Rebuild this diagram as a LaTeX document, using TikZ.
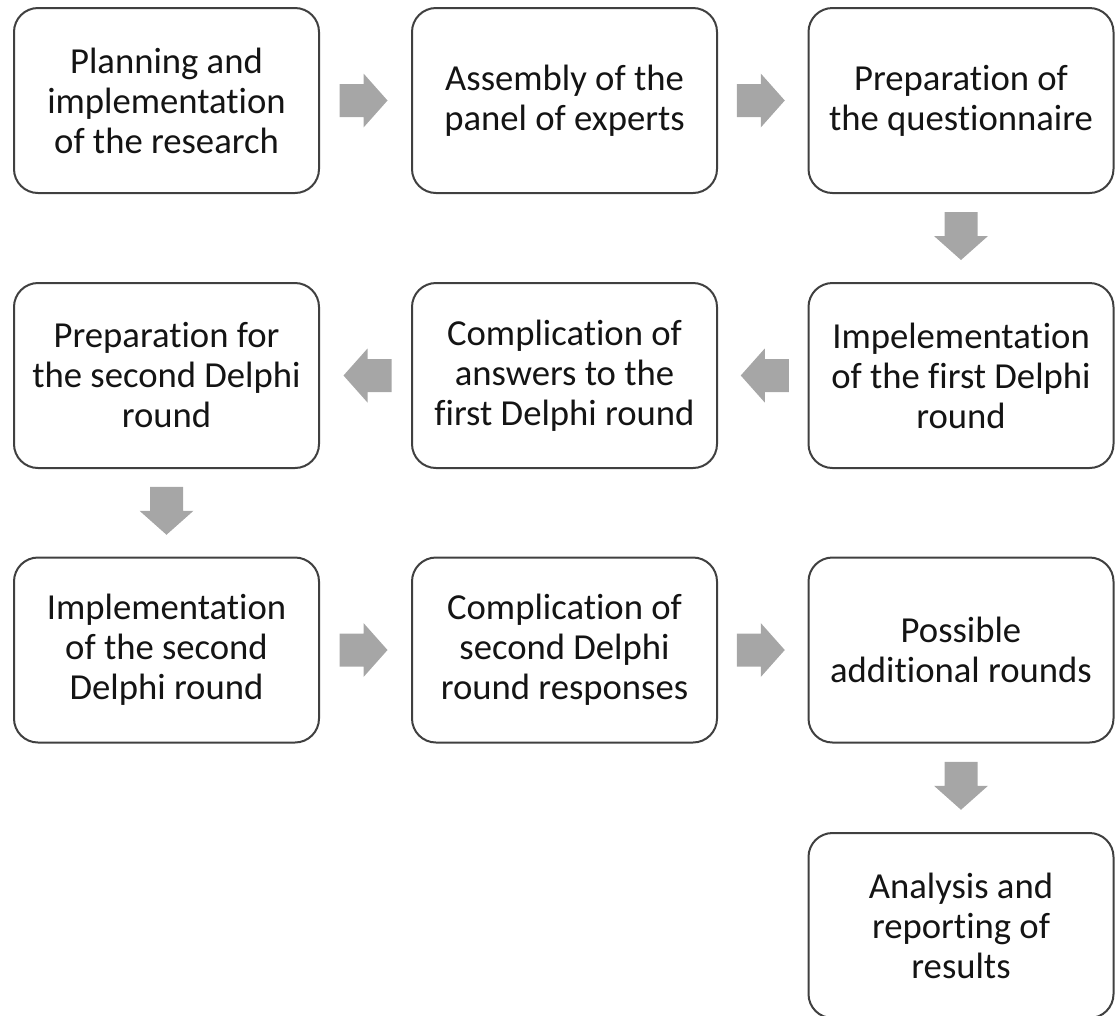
\documentclass[tikz,border=0pt]{standalone}
\usepackage{fontspec}
\setmainfont{Carlito}[Ligatures=NoCommon]
\usetikzlibrary{calc}
\definecolor{boxline}{HTML}{404040}
\definecolor{flowgray}{HTML}{A6A6A6}
\definecolor{ink}{HTML}{141414}
\begin{document}
\begin{tikzpicture}[x=0.75pt,y=-0.75pt,
  stepbox/.style={draw=boxline, line width=1.5pt, rounded corners=18pt,
    fill=white, minimum width=228.75pt, minimum height=138.75pt,
    align=center, text=ink, inner sep=0pt,
    font=\fontsize{27.5}{30}\selectfont},
  blockarrow/.pic={
    \fill[flowgray] (-24,-16.5) -- (0,-16.5) -- (0,-27) -- (24,0)
      -- (0,27) -- (0,16.5) -- (-24,16.5) -- cycle;
  }]
\useasboundingbox (0,0) rectangle (1116,1015);

% first row
\node[stepbox] (b1) at (166.5,100.5) {Planning and\\implementation\\of the research};
\node[stepbox] (b2) at (564.5,100.5) {Assembly of the\\panel of experts};
\node[stepbox] (b3) at (961,100.5) {Preparation of\\the questionnaire};
% second row
\node[stepbox] (b4) at (961,375.5) {Impelementation\\of the first Delphi\\round};
\node[stepbox] (b5) at (564.5,375.5) {Complication of\\answers to the\\first Delphi round};
\node[stepbox] (b6) at (166.5,375.5) {Preparation for\\the second Delphi\\round};
% third row
\node[stepbox] (b7) at (166.5,650) {Implementation\\of the second\\Delphi round};
\node[stepbox] (b8) at (564.5,650) {Complication of\\second Delphi\\round responses};
\node[stepbox] (b9) at (961,650) {Possible\\additional rounds};
% last box
\node[stepbox] (b10) at (961,925.5) {Analysis and\\reporting of\\results};

% block arrows between the steps
\pic at ($(b1.east)!0.5!(b2.west)+(-2,0)$) {blockarrow};
\pic at ($(b2.east)!0.5!(b3.west)+(-2,0)$) {blockarrow};
\pic[rotate=-90] at ($(b3.south)!0.5!(b4.north)+(0,-2)$) {blockarrow};
\pic[rotate=180] at ($(b4.west)!0.5!(b5.east)+(2,0)$) {blockarrow};
\pic[rotate=180] at ($(b5.west)!0.5!(b6.east)+(2,0)$) {blockarrow};
\pic[rotate=-90] at ($(b6.south)!0.5!(b7.north)+(0,-2)$) {blockarrow};
\pic at ($(b7.east)!0.5!(b8.west)+(-2,0)$) {blockarrow};
\pic at ($(b8.east)!0.5!(b9.west)+(-2,0)$) {blockarrow};
\pic[rotate=-90] at ($(b9.south)!0.5!(b10.north)+(0,-2)$) {blockarrow};
\end{tikzpicture}
\end{document}
